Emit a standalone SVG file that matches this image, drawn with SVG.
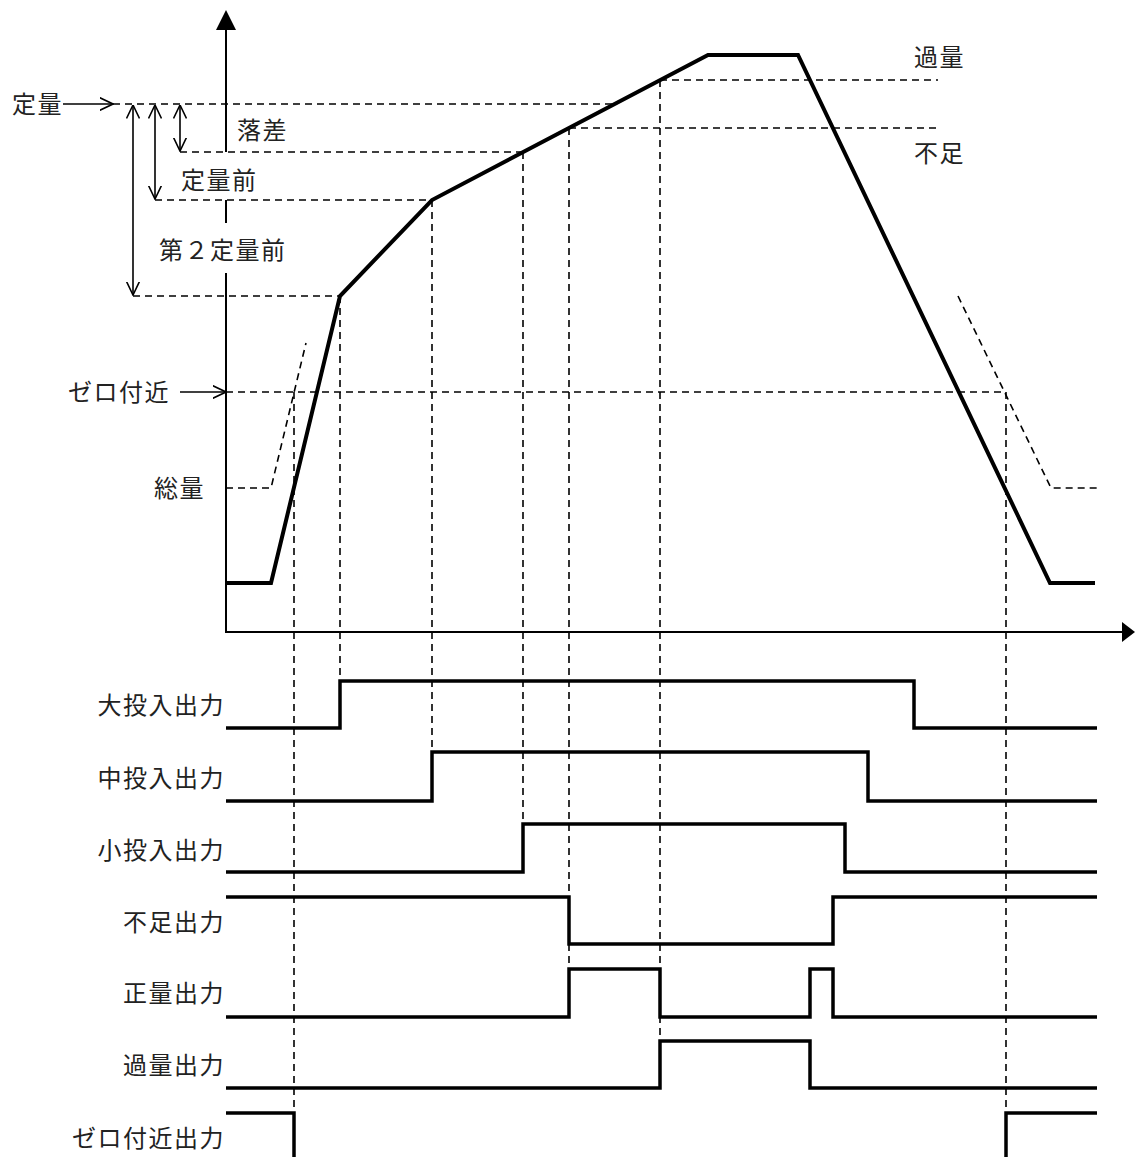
<svg xmlns="http://www.w3.org/2000/svg" width="1135" height="1157" viewBox="0 0 1135 1157">
<defs>
<marker id="open" viewBox="0 0 14 14" refX="13.5" refY="7" markerWidth="14" markerHeight="14" markerUnits="userSpaceOnUse" orient="auto-start-reverse">
<path d="M0,0.5 L13.5,7 L0,13.5" fill="none" stroke="#000" stroke-width="1.6"/>
</marker>
</defs>
<style>
text{font-family:"Noto Sans CJK JP","Noto Sans",sans-serif;font-size:24px;fill:#222;letter-spacing:1.5px}
.r{text-anchor:end}
.ax{stroke:#000;stroke-width:2;fill:none}
.d{stroke:#000;stroke-width:1.6;fill:none;stroke-dasharray:7,5}
.sig{stroke:#000;stroke-width:3.5;fill:none;stroke-linejoin:miter}
.cur{stroke:#000;stroke-width:4;fill:none;stroke-linejoin:miter}
.arr{stroke:#000;stroke-width:1.6;fill:none;marker-end:url(#open)}
.dbl{stroke:#000;stroke-width:1.6;fill:none;marker-start:url(#open);marker-end:url(#open)}
</style>
<g id="axes">
<path class="ax" d="M226,29 V152 M226,200 V223 M226,273 V632 H1123"/>
<polygon points="226,10 216,30 236,30" fill="#000"/>
<polygon points="1135,632 1122,622 1122,642" fill="#000"/>
</g>
<g id="connectors">
<path class="d" d="M113,104 H615"/>
<path class="d" d="M180,152 H523"/>
<path class="d" d="M155,200 H432"/>
<path class="d" d="M133,296 H340"/>
<path class="d" d="M660,80 H938"/>
<path class="d" d="M569,128 H938"/>
<path class="d" d="M226,392 H1006"/>
<path class="d" d="M226,488 H271 L306,343"/>
<path class="d" d="M958,296 L1051,488 H1098"/>
<path class="d" d="M294,392 V1157"/>
<path class="d" d="M340,296 V681"/>
<path class="d" d="M432,200 V752"/>
<path class="d" d="M523,152 V824"/>
<path class="d" d="M569,128 V969"/>
<path class="d" d="M660,80 V1041"/>
<path class="d" d="M1006,392 V1157"/>
<path class="arr" d="M63,104 H113"/>
<path class="arr" d="M180,392 H226"/>
<path class="dbl" d="M133,105 V295"/>
<path class="dbl" d="M155,105 V199"/>
<path class="dbl" d="M180,105 V151"/>
</g>
<g id="curve">
<path class="cur" d="M226,583 H271 L340,296 L432,200 L708,55 H798 L1050,583 H1095"/>
</g>
<g id="labels-top">
<text x="12" y="113">定量</text>
<text x="237" y="139">落差</text>
<text x="181" y="189">定量前</text>
<text x="159" y="259">第２定量前</text>
<text x="914" y="66">過量</text>
<text x="914" y="162">不足</text>
<text class="r" x="170" y="401">ゼロ付近</text>
<text class="r" x="205" y="497">総量</text>
</g>
<g id="sig-dai">
<text class="r" x="225" y="714">大投入出力</text>
<path class="sig" d="M226,728 H340 V681 H914 V728 H1097"/>
</g>
<g id="sig-chu">
<text class="r" x="225" y="787">中投入出力</text>
<path class="sig" d="M226,801 H432 V752 H868 V801 H1097"/>
</g>
<g id="sig-sho">
<text class="r" x="225" y="859">小投入出力</text>
<path class="sig" d="M226,872 H523 V824 H845 V872 H1097"/>
</g>
<g id="sig-fusoku">
<text class="r" x="225" y="931">不足出力</text>
<path class="sig" d="M226,897 H569 V944 H833 V897 H1097"/>
</g>
<g id="sig-seiryo">
<text class="r" x="225" y="1002">正量出力</text>
<path class="sig" d="M226,1017 H569 V969 H660 V1017 H810 V969 H833 V1017 H1097"/>
</g>
<g id="sig-karyo">
<text class="r" x="225" y="1074">過量出力</text>
<path class="sig" d="M226,1088 H660 V1041 H810 V1088 H1097"/>
</g>
<g id="sig-zero">
<text class="r" x="225" y="1147">ゼロ付近出力</text>
<path class="sig" d="M226,1113 H294 V1157 M1006,1157 V1113 H1097"/>
</g>
</svg>
